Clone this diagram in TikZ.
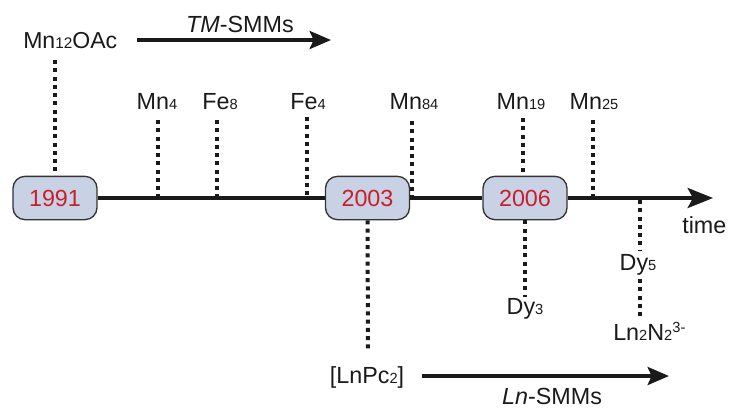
\documentclass[tikz,border=0pt]{standalone}
\usepackage{fontspec}
\setmainfont{Liberation Sans}
\usetikzlibrary{arrows.meta,calc}
\definecolor{boxfill}{HTML}{C9D1E4}
\definecolor{boxline}{HTML}{333333}
\definecolor{yearred}{HTML}{C8202A}
\definecolor{ink}{HTML}{1A1A1A}
% small digits sitting on the baseline
\newcommand\lw[1]{{\fontsize{11}{11}\selectfont #1}}
\newcommand\lwbig[1]{{\fontsize{11.5}{11.5}\selectfont #1}}
\begin{document}
\begin{tikzpicture}[x=0.75pt,y=-0.75pt,
  yearbox/.style={draw=boxline,line width=1pt,fill=boxfill,rounded corners=9pt,
    minimum width=63pt,minimum height=32.5pt,inner sep=0pt,
    text=yearred,font=\fontsize{17.5}{17.5}\selectfont},
  lbl/.style={anchor=base,inner sep=0pt,text=ink,font=\fontsize{17.5}{17.5}\selectfont},
  tick/.style={draw=ink,line width=3pt,dash pattern=on 3pt off 3.2pt},
  axis/.style={draw=ink,line width=2.8pt},
  era/.style={draw=ink,line width=2.8pt,-{Stealth[length=16pt,width=13.5pt,inset=3pt]}}]
\useasboundingbox (0,0) rectangle (729,408);

% year boxes on the time axis
\node[yearbox] (y1991) at (55,198) {1991};
\node[yearbox] (y2003) at (367.5,198) {2003};
\node[yearbox] (y2006) at (525,198) {2006};
\coordinate (tip) at (713,198);

% time axis
\draw[axis] (y1991.east) -- (y2003.west);
\draw[axis] (y2003.east) -- (y2006.west);
\draw[axis,-{Stealth[length=19pt,width=15pt,inset=4pt]}] (y2006.east) -- (tip);
\node[lbl,anchor=base west] (time) at (682,233) {time};

% transition-metal SMMs
\node[lbl,anchor=base west,font=\fontsize{17.3}{17.3}\selectfont] (mn12) at (23,48) {Mn\lwbig{12}OAc};
\node[lbl] (tm) at (240,32) {\textit{TM}-SMMs};
\coordinate (tmA) at (137,40);
\coordinate (tmB) at (331,40);
\draw[era] (tmA) -- (tmB);
\draw[tick] (55,60) -- (y1991.north);

\node[lbl] (mn4) at (157,109) {Mn\lw{4}};
\node[lbl] (fe8) at (220,109) {Fe\lw{8}};
\node[lbl] (fe4) at (308,109) {Fe\lw{4}};
\node[lbl] (mn84) at (414,109) {Mn\lw{84}};
\node[lbl] (mn19) at (521,109) {Mn\lw{19}};
\node[lbl] (mn25) at (594,109) {Mn\lw{25}};

\coordinate (a4) at (158,198);
\coordinate (a8) at (217,198);
\coordinate (a84f) at (307,198);
\coordinate (a84) at (412,198);
\coordinate (a25) at (593,198);
\draw[tick] (158,120) -- (a4);
\draw[tick] (217,120) -- (a8);
\draw[tick] (307,117) -- (a84f);
\draw[tick] (412,121) -- (a84);
\draw[tick] (523,118) -- (y2006.north -| 523,0);
\draw[tick] (593,120) -- (a25);

% lanthanide SMMs
\node[lbl] (lnpc) at (367,383) {[LnPc\lw{2}]};
\draw[tick] (y2003.south) -- (368,352);

\node[lbl] (dy3) at (525,314) {Dy\lw{3}};
\draw[tick] (y2006.south) -- (525,297);

\node[lbl] (dy5) at (638,270) {Dy\lw{5}};
\node[lbl,anchor=base west] (ln2n2) at (613,340) {Ln\lw{2}N\lw{2}\raisebox{5.5pt}{\lw{3-}}};
\draw[tick] (640,200) -- (640,250);
\draw[tick] (640,279) -- (640,320);

\coordinate (lnA) at (422,376);
\coordinate (lnB) at (669,376);
\draw[era] (lnA) -- (lnB);
\node[lbl] (lnsmm) at (552,404) {\textit{Ln}-SMMs};
\end{tikzpicture}
\end{document}
